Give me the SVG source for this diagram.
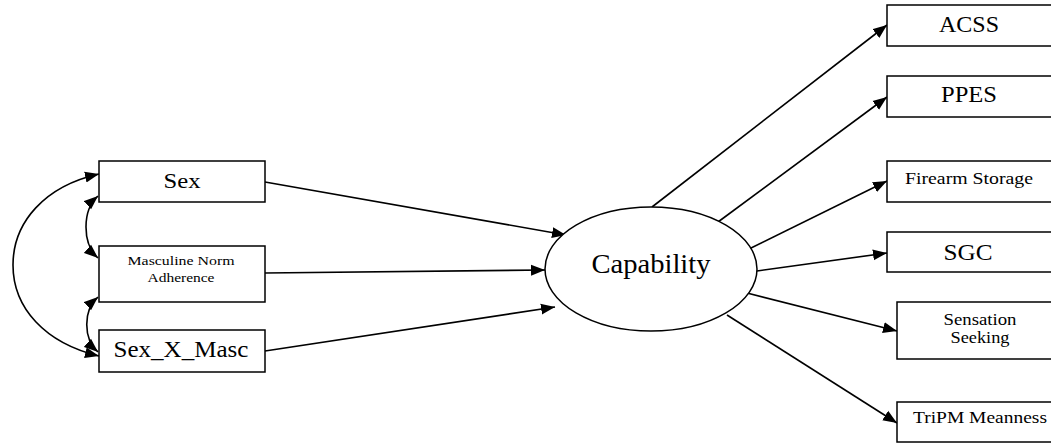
<svg xmlns="http://www.w3.org/2000/svg" width="1051" height="443" viewBox="0 0 1051 443">
<style>
.box{fill:#fff;stroke:#000;stroke-width:1.5}
.ell{fill:#fff;stroke:#000;stroke-width:1.5}
.t{fill:#000;text-anchor:middle}
.c{fill:none;stroke:#000;stroke-width:1.6}
</style>
<defs>
<marker id="ah" markerUnits="userSpaceOnUse" markerWidth="15" markerHeight="12" refX="14" refY="6" orient="auto-start-reverse">
<path d="M0,0.5 L14,6 L0,11.5 Z" fill="#000"/>
</marker>
</defs>
<rect width="1051" height="443" fill="#fff"/>
<g id="connectors">
<path class="c" d="M99,174 C45,186 13,222 13,265 C13,308 45,343 99,356" marker-start="url(#ah)" marker-end="url(#ah)"/>
<path class="c" d="M98,196 C82,210 82,244 98,258" marker-start="url(#ah)" marker-end="url(#ah)"/>
<path class="c" d="M98,297 C83,310 83,339 98,352" marker-start="url(#ah)" marker-end="url(#ah)"/>
<line class="c" x1="265" y1="182" x2="566" y2="235" marker-end="url(#ah)"/>
<line class="c" x1="265" y1="273" x2="545" y2="270" marker-end="url(#ah)"/>
<line class="c" x1="265" y1="351" x2="555" y2="307" marker-end="url(#ah)"/>
<line class="c" x1="652" y1="207" x2="887" y2="25" marker-end="url(#ah)"/>
<line class="c" x1="718" y1="222" x2="887" y2="97" marker-end="url(#ah)"/>
<line class="c" x1="747" y1="250" x2="887" y2="181" marker-end="url(#ah)"/>
<line class="c" x1="757" y1="271" x2="887" y2="253" marker-end="url(#ah)"/>
<line class="c" x1="747" y1="293" x2="897" y2="331" marker-end="url(#ah)"/>
<line class="c" x1="727" y1="315" x2="897" y2="423" marker-end="url(#ah)"/>
</g>
<g font-family="Liberation Serif, Times New Roman, DejaVu Serif, serif">
<g id="sex"><rect class="box" x="99" y="161" width="166" height="41"/><text class="t" x="182" y="188" font-size="22" textLength="37" lengthAdjust="spacingAndGlyphs">Sex</text></g>
<g id="masc"><rect class="box" x="99" y="246" width="166" height="56"/><text class="t" x="181" y="265" font-size="13" textLength="107" lengthAdjust="spacingAndGlyphs">Masculine Norm</text><text class="t" x="181" y="282" font-size="13" textLength="67" lengthAdjust="spacingAndGlyphs">Adherence</text></g>
<g id="sexxmasc"><rect class="box" x="99" y="330" width="166" height="42"/><text class="t" x="181" y="357" font-size="23" textLength="135" lengthAdjust="spacingAndGlyphs">Sex_X_Masc</text></g>
<g id="capability"><ellipse class="ell" cx="651" cy="269" rx="106" ry="62"/><text class="t" x="651" y="273" font-size="28" textLength="119" lengthAdjust="spacingAndGlyphs">Capability</text></g>
<g id="acss"><rect class="box" x="887" y="5" width="170" height="41"/><text class="t" x="969" y="32" font-size="23.5" textLength="60" lengthAdjust="spacingAndGlyphs">ACSS</text></g>
<g id="ppes"><rect class="box" x="887" y="76" width="170" height="41"/><text class="t" x="969" y="102" font-size="23.5" textLength="56" lengthAdjust="spacingAndGlyphs">PPES</text></g>
<g id="firearm"><rect class="box" x="887" y="161" width="170" height="41"/><text class="t" x="969" y="184" font-size="16.5" textLength="128" lengthAdjust="spacingAndGlyphs">Firearm Storage</text></g>
<g id="sgc"><rect class="box" x="887" y="232" width="170" height="40"/><text class="t" x="968" y="260" font-size="24" textLength="49" lengthAdjust="spacingAndGlyphs">SGC</text></g>
<g id="sensation"><rect class="box" x="897" y="302" width="160" height="57"/><text class="t" x="980" y="325" font-size="16" textLength="73" lengthAdjust="spacingAndGlyphs">Sensation</text><text class="t" x="980" y="343" font-size="16" textLength="59" lengthAdjust="spacingAndGlyphs">Seeking</text></g>
<g id="tripm"><rect class="box" x="897" y="402" width="160" height="40"/><text class="t" x="980" y="423" font-size="17.5" textLength="134" lengthAdjust="spacingAndGlyphs">TriPM Meanness</text></g>
</g>
</svg>
